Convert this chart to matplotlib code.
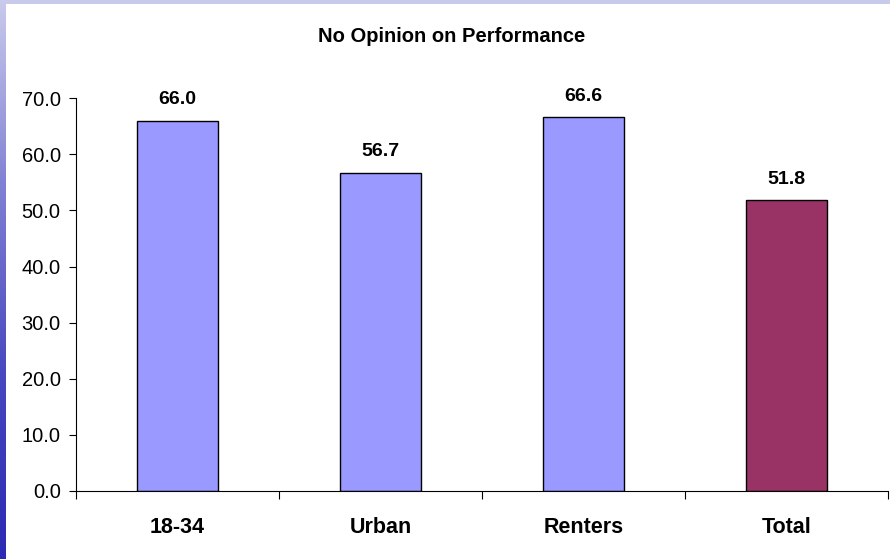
import numpy as np
import matplotlib
matplotlib.use("Agg")
import matplotlib.pyplot as plt

categories = ["18-34", "Urban", "Renters", "Total"]
values = [66.0, 56.7, 66.6, 51.8]
bar_colors = ["#9999FF", "#9999FF", "#9999FF", "#993366"]
y_ticks = [0, 10, 20, 30, 40, 50, 60, 70]

plt.rcParams["font.family"] = ["Liberation Sans", "DejaVu Sans"]

fig = plt.figure(figsize=(8.9, 5.59), dpi=100)
fig.patch.set_facecolor("white")

# slide decoration: top band and left gradient strip
top_band = fig.add_axes([0, 1 - 4 / 559, 1, 4 / 559])
top_band.set_facecolor("#C9C9EC")
top_band.set_xticks([])
top_band.set_yticks([])
for s in top_band.spines.values():
    s.set_visible(False)

left_strip = fig.add_axes([0, 0, 6 / 890, 1])
grad = np.linspace(0, 1, 256).reshape(-1, 1)
cmap = matplotlib.colors.LinearSegmentedColormap.from_list(
    "strip", ["#CACAEC", "#8080D4", "#4848C0", "#2A2AB4"]
)
left_strip.imshow(grad, aspect="auto", cmap=cmap)
left_strip.axis("off")

ax = fig.add_axes([76 / 890, 1 - 491 / 559, 812 / 890, (491 - 98.2) / 559])
x = np.arange(len(categories))
bars = ax.bar(x, values, width=0.4, color=bar_colors, edgecolor="black", linewidth=1)

for bar, v in zip(bars, values):
    ax.annotate(
        f"{v:.1f}",
        (bar.get_x() + bar.get_width() / 2, v),
        xytext=(0, 9),
        textcoords="offset points",
        ha="center",
        va="bottom",
        fontsize=14,
        fontweight="bold",
    )

ax.set_xlim(-0.5, len(categories) - 0.5)
ax.set_ylim(0, 70)
ax.set_yticks(y_ticks)
ax.set_yticklabels([f"{t:.1f}" for t in y_ticks], fontsize=14.5)
ax.tick_params(axis="y", length=5, pad=6, direction="out")

ax.set_xticks(np.arange(-0.5, len(categories), 1.0))
ax.set_xticklabels([])
ax.tick_params(axis="x", which="major", length=6, direction="out")
ax.set_xticks(x, minor=True)
ax.set_xticklabels(categories, minor=True, fontsize=15.5, fontweight="bold")
ax.tick_params(axis="x", which="minor", length=0, pad=19)

ax.spines["top"].set_visible(False)
ax.spines["right"].set_visible(False)

fig.text(452 / 890, 1 - 36 / 559, "No Opinion on Performance", ha="center", va="center",
         fontsize=14.5, fontweight="bold")

fig.savefig("out.png", dpi=100)
